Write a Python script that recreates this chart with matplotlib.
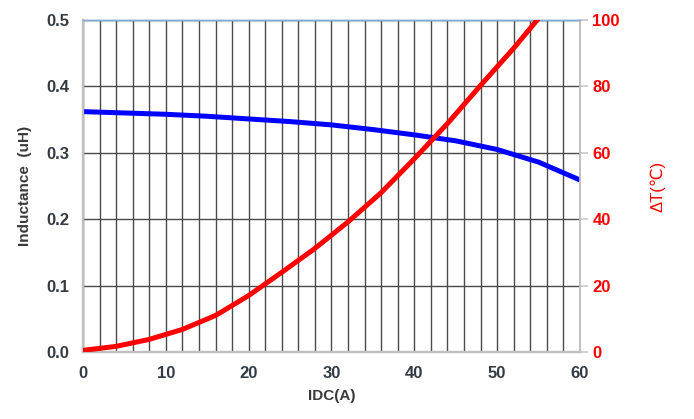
import matplotlib
matplotlib.use("Agg")
import matplotlib.pyplot as plt
import numpy as np

plt.rcParams["font.family"] = ["Liberation Sans", "DejaVu Sans"]
plt.rcParams["font.weight"] = "bold"

# Inductance vs DC current (left axis)
idc_l = [0, 5, 10, 15, 20, 25, 30, 35, 40, 45, 50, 55, 60]
inductance = [0.362, 0.360, 0.358, 0.355, 0.351, 0.347, 0.342, 0.335,
              0.327, 0.318, 0.305, 0.286, 0.259]

# Temperature rise vs DC current (right axis)
idc_t = [0, 4, 8, 12, 16, 20, 24, 28, 32, 36, 40, 44, 48, 52, 55]
delta_t = [0.5, 1.7, 3.8, 6.8, 11, 17, 24, 31.2, 39.2, 48, 58.2,
           68.8, 80.3, 91.5, 100.5]

fig = plt.figure(figsize=(6.94, 4.19), dpi=100)
ax = fig.add_axes([0.1196, 0.1599, 0.7161, 0.7924])
ax2 = ax.twinx()

ax.set_xlim(0, 60)
ax.set_ylim(0, 0.5)
ax2.set_ylim(0, 100)

# grid: vertical every 2 A, horizontal every 0.1 uH
ax.set_xticks(np.arange(0, 61, 2), minor=True)
ax.set_xticks(np.arange(0, 61, 10))
ax.set_yticks(np.arange(0, 0.51, 0.1))
ax.grid(True, which="both", axis="x", color="#4a4a4a", linewidth=1.0)
ax.grid(True, which="major", axis="y", color="#4a4a4a", linewidth=1.0)
ax.set_axisbelow(True)

ax.plot(idc_l, inductance, color="#0000ff", linewidth=3.6, solid_capstyle="butt", zorder=3)
ax2.plot(idc_t, delta_t, color="#ff0000", linewidth=3.6, solid_capstyle="butt", zorder=3)
ax2.set_zorder(ax.get_zorder() + 1)

tick_color = "#333a44"
ax.set_yticklabels([f"{v:.1f}" for v in np.arange(0, 0.51, 0.1)])
ax.tick_params(axis="y", length=0, pad=10, labelsize=12, labelcolor=tick_color)
ax.tick_params(axis="x", which="both", length=0, pad=10, labelsize=12, labelcolor=tick_color)
ax2.set_yticks(np.arange(0, 101, 20))
ax2.tick_params(axis="y", length=6, width=1.2, color="#c8c8c8", pad=3,
                labelsize=12, labelcolor="#ff0000")

for a in (ax, ax2):
    a.spines["left"].set_color("#c0c0c0")
    a.spines["left"].set_linewidth(1.6)
    a.spines["bottom"].set_color("#c0c0c0")
    a.spines["bottom"].set_linewidth(1.6)
    a.spines["right"].set_color("#c0c0c0")
    a.spines["right"].set_linewidth(1.2)
    a.spines["top"].set_color("#7fa8d6")
    a.spines["top"].set_linewidth(1.0)

ax.set_ylabel("Inductance  (uH)", fontsize=11, fontweight="bold", color="#3a3a3a", labelpad=10)
ax.set_xlabel("IDC(A)", fontsize=11, fontweight="bold", color="#3a3a3a", labelpad=6)
ax2.set_ylabel("ΔT(℃)", fontsize=12, color="#ff0000", labelpad=22)

fig.savefig("out.png", dpi=100)
